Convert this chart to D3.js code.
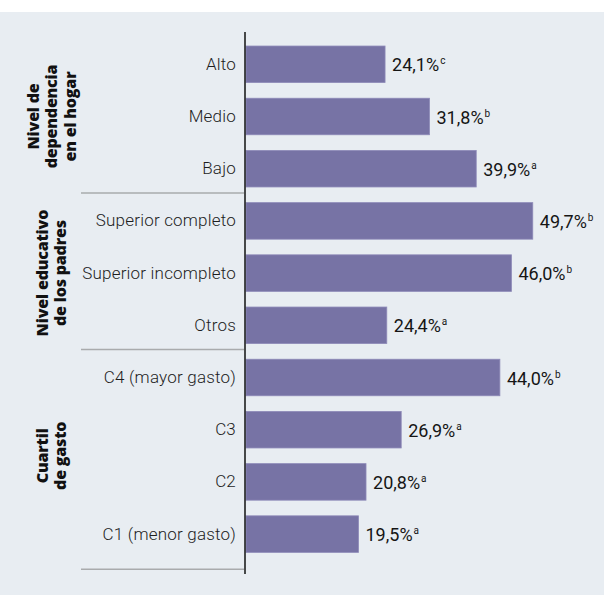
<!DOCTYPE html>
<html>
<head>
<meta charset="utf-8">
<script src="https://cdn.jsdelivr.net/npm/d3@7"></script>
<style>
  body { margin: 0; background: #ffffff; }
  svg { display: block; }
</style>
</head>
<body>
<div class="chart"></div>
<script>
// data
var categories = ["Alto", "Medio", "Bajo",
                  "Superior completo", "Superior incompleto", "Otros",
                  "C4 (mayor gasto)", "C3", "C2", "C1 (menor gasto)"];
var values = [24.1, 31.8, 39.9, 49.7, 46.0, 24.4, 44.0, 26.9, 20.8, 19.5];
var marks = ["c", "b", "a", "b", "b", "a", "b", "a", "a", "a"];
var groupTitles = [["Nivel de", "dependencia", "en el hogar"],
                   ["Nivel educativo", "de los padres"],
                   ["Cuartil", "de gasto"]];
var groupMembers = [["Alto", "Medio", "Bajo"],
                    ["Superior completo", "Superior incompleto", "Otros"],
                    ["C4 (mayor gasto)", "C3", "C2", "C1 (menor gasto)"]];

var W = 604, H = 595;
var fontFam = "Roboto, 'DejaVu Sans', sans-serif";

var svg = d3.select(".chart")
            .append("svg")
            .attr("width", W)
            .attr("height", H);

// panel background
svg.append("rect")
   .attr("x", 0).attr("y", 12)
   .attr("width", W).attr("height", H - 12)
   .attr("fill", "#e8edf2");

var x = d3.scaleLinear()
          .domain([0, 50])
          .range([246, 246 + 50 * 5.77]);

var y = d3.scaleBand()
          .domain(categories)
          .range([38.2, 560.2])
          .paddingInner(0.3)
          .paddingOuter(0.15);

// bars
svg.selectAll(".bar")
   .data(categories)
   .enter()
   .append("rect")
   .attr("class", "bar")
   .attr("x", x(0))
   .attr("y", function(d){ return y(d); })
   .attr("width", function(d, i){ return x(values[i]) - x(0); })
   .attr("height", y.bandwidth())
   .attr("fill", "#7773a5")
   .attr("stroke", "#8e8ab8")
   .attr("stroke-width", 0.8);

// value labels
var lab = svg.selectAll(".val")
   .data(categories)
   .enter()
   .append("text")
   .attr("class", "val")
   .attr("x", function(d, i){ return x(values[i]) + 7; })
   .attr("y", function(d){ return y(d) + y.bandwidth() / 2 + 7; })
   .style("font-family", fontFam)
   .style("font-size", "18px")
   .style("font-weight", 400)
   .attr("fill", "#151515");

lab.append("tspan")
   .text(function(d, i){ return d3.format(".1f")(values[i]).replace(".", ",") + "%"; });
lab.append("tspan")
   .attr("dy", -7)
   .attr("dx", 1)
   .style("font-size", "10px")
   .text(function(d, i){ return marks[i]; });

// category axis
var yAxis = svg.append("g")
   .attr("transform", "translate(" + 245 + ",0)")
   .call(d3.axisLeft(y).tickSize(0).tickPadding(9));
yAxis.select(".domain").remove();
yAxis.selectAll("text")
     .style("font-family", fontFam)
     .style("font-size", "17px")
     .style("font-weight", 300)
     .style("letter-spacing", "0.2px")
     .attr("fill", "#1e1e1e");

// axis line
svg.append("line")
   .attr("x1", 245).attr("x2", 245)
   .attr("y1", 32).attr("y2", 574)
   .attr("stroke", "#111")
   .attr("stroke-width", 1.5);

// group separators
var sepY = [y("Bajo") + y.bandwidth() + 6,
            y("Otros") + y.bandwidth() + 6,
            y("C1 (menor gasto)") + y.bandwidth() + 17];
svg.selectAll(".sep")
   .data(sepY)
   .enter()
   .append("line")
   .attr("x1", 81).attr("x2", 244)
   .attr("y1", function(d){ return d; })
   .attr("y2", function(d){ return d; })
   .attr("stroke", "#a9abad")
   .attr("stroke-width", 1.5);

// group titles
groupTitles.forEach(function(lines, g){
    var mem = groupMembers[g];
    var cy = (y(mem[0]) + y(mem[mem.length - 1]) + y.bandwidth()) / 2;
    var lh = 18.5;
    var cx = 52;
    var t = svg.append("text")
       .attr("transform", "translate(" + cx + "," + cy + ")rotate(-90)")
       .attr("text-anchor", "middle")
       .style("font-family", "'Open Sans', Roboto, sans-serif")
       .style("font-size", "16px")
       .style("font-weight", 800)
       .style("letter-spacing", "-0.2px")
       .attr("fill", "#111");
    lines.forEach(function(l, k){
        t.append("tspan")
         .attr("x", 0)
         .attr("y", (k - (lines.length - 1) / 2) * lh + 5)
         .text(l);
    });
});
</script>
</body>
</html>
